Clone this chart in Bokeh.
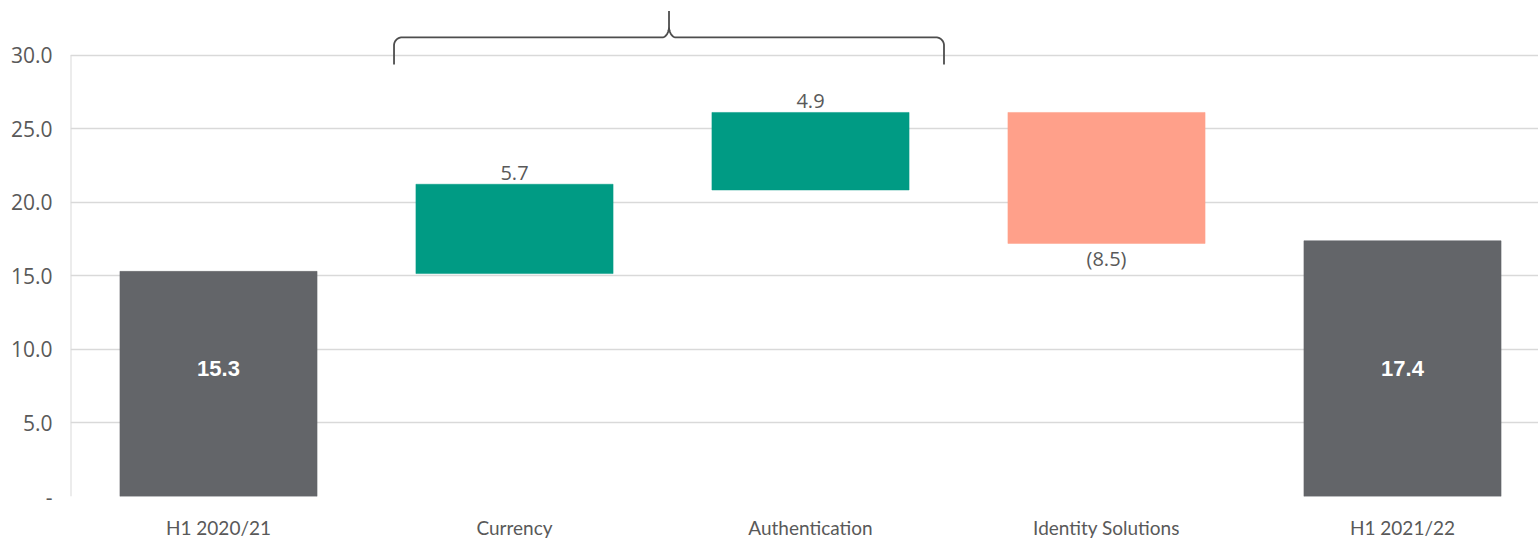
import numpy as np
from bokeh.plotting import figure
from bokeh.models import Range1d, FixedTicker, ColumnDataSource
from bokeh.core.properties import value
from bokeh.embed import file_html
from bokeh.resources import INLINE

# ---- data ----
categories = ["H1 2020/21", "Currency", "Authentication", "Identity Solutions", "H1 2021/22"]
bar_bottom = [0.0, 15.15, 20.83, 17.2, 0.0]
bar_top = [15.3, 21.22, 26.1, 26.1, 17.38]
bar_kind = ["total", "up", "up", "down", "total"]
value_labels = ["15.3", "5.7", "4.9", "(8.5)", "17.4"]
y_ticks = [0, 5, 10, 15, 20, 25, 30]
y_tick_labels = ["-", "5.0", "10.0", "15.0", "20.0", "25.0", "30.0"]

colors = {"total": "#636569", "up": "#009B84", "down": "#FFA08A"}
TEXT = "#595959"
GRID = "#D9D9D9"

x = list(range(len(categories)))
src = ColumnDataSource(dict(
    x=x, bottom=bar_bottom, top=bar_top,
    color=[colors[k] for k in bar_kind],
))

PX_PER_CAT = 296.0
FRAME_W = 1468
FRAME_H = 500
Y_PX_30 = 445.0

p = figure(width=1538, height=541, output_backend="svg", toolbar_location=None,
           x_range=Range1d(-0.5, -0.5 + FRAME_W / PX_PER_CAT),
           y_range=Range1d(0, FRAME_H / Y_PX_30 * 30),
           min_border_left=70, min_border_right=0, min_border_top=0, min_border_bottom=41)
p.outline_line_color = None
p.background_fill_color = "white"
p.border_fill_color = "white"

# grid
p.xgrid.visible = False
p.ygrid.ticker = FixedTicker(ticks=y_ticks)
p.ygrid.grid_line_color = GRID
p.ygrid.grid_line_width = 1.6

# y axis
p.yaxis.ticker = FixedTicker(ticks=y_ticks)
p.yaxis.major_label_overrides = {t: l for t, l in zip(y_ticks, y_tick_labels)}
p.yaxis.axis_line_color = None
p.yaxis.major_tick_line_color = None
p.yaxis.minor_tick_line_color = None
p.yaxis.major_label_standoff = 12
p.yaxis.major_label_text_font = "Open Sans"
p.yaxis.major_label_text_font_size = "21px"
p.yaxis.major_label_text_color = TEXT

# x axis
p.xaxis.ticker = FixedTicker(ticks=x)
p.xaxis.major_label_overrides = {i: c for i, c in zip(x, categories)}
p.xaxis.axis_line_color = None
p.xaxis.major_tick_line_color = None
p.xaxis.minor_tick_line_color = None
p.xaxis.major_label_standoff = 13
p.xaxis.major_label_text_font = "Lato"
p.xaxis.major_label_text_font_size = "19px"
p.xaxis.major_label_text_color = TEXT

# vertical axis line from 0 to 30
p.segment(x0=[-0.5], y0=[y_ticks[0]], x1=[-0.5], y1=[y_ticks[-1]], line_color=GRID, line_width=2)

# bars
p.vbar(x="x", bottom="bottom", top="top", width=0.666, fill_color="color",
       line_color="color", line_width=0.5, source=src)

# labels
up_x, up_y, up_t = [], [], []
dn_x, dn_y, dn_t = [], [], []
in_x, in_y, in_t = [], [], []
INSIDE_Y = 8.7
for i, k in enumerate(bar_kind):
    if k == "up":
        up_x.append(i); up_y.append(bar_top[i]); up_t.append(value_labels[i])
    elif k == "down":
        dn_x.append(i); dn_y.append(bar_bottom[i]); dn_t.append(value_labels[i])
    else:
        in_x.append(i); in_y.append(INSIDE_Y); in_t.append(value_labels[i])

p.text(x=up_x, y=up_y, text=up_t, text_align="center", text_baseline="middle", y_offset=-11,
       text_font=value("Open Sans"), text_font_size="20px", text_color=TEXT)
p.text(x=dn_x, y=dn_y, text=dn_t, text_align="center", text_baseline="middle", y_offset=15,
       text_font=value("Open Sans"), text_font_size="20px", text_color=TEXT)
p.text(x=in_x, y=in_y, text=in_t, text_align="center", text_baseline="middle",
       text_font=value("Liberation Sans"), text_font_size="22px", text_font_style="bold",
       text_color="white")

# bracket (curly brace over the middle segments)
bx0, bx1 = 0.593, 2.451
bxc = (bx0 + bx1) / 2
y_end, y_mid, y_peak = 29.35, 31.2, 33.0
rx, ry = 8 / PX_PER_CAT, 8 / 14.83
rxm, rym = 7 / PX_PER_CAT, 11 / 14.83

def arc(cx, cy, ax, ay, t0, t1, n=14):
    t = np.linspace(t0, t1, n)
    return list(cx + ax * np.cos(t)), list(cy + ay * np.sin(t))

xs, ys = [bx0], [y_end]
a, b = arc(bx0 + rx, y_mid - ry, rx, ry, np.pi, np.pi / 2); xs += a; ys += b
a, b = arc(bxc - rxm, y_mid + rym, rxm, rym, -np.pi / 2, 0); xs += a; ys += b
xs.append(bxc); ys.append(y_peak)
a, b = arc(bxc + rxm, y_mid + rym, rxm, rym, np.pi, 3 * np.pi / 2); xs += a; ys += b
a, b = arc(bx1 - rx, y_mid - ry, rx, ry, np.pi / 2, 0); xs += a; ys += b
xs.append(bx1); ys.append(y_end)
p.line(xs, ys, line_color="#4D4D4D", line_width=1.8)

open("out.html", "w").write(file_html(p, INLINE))
